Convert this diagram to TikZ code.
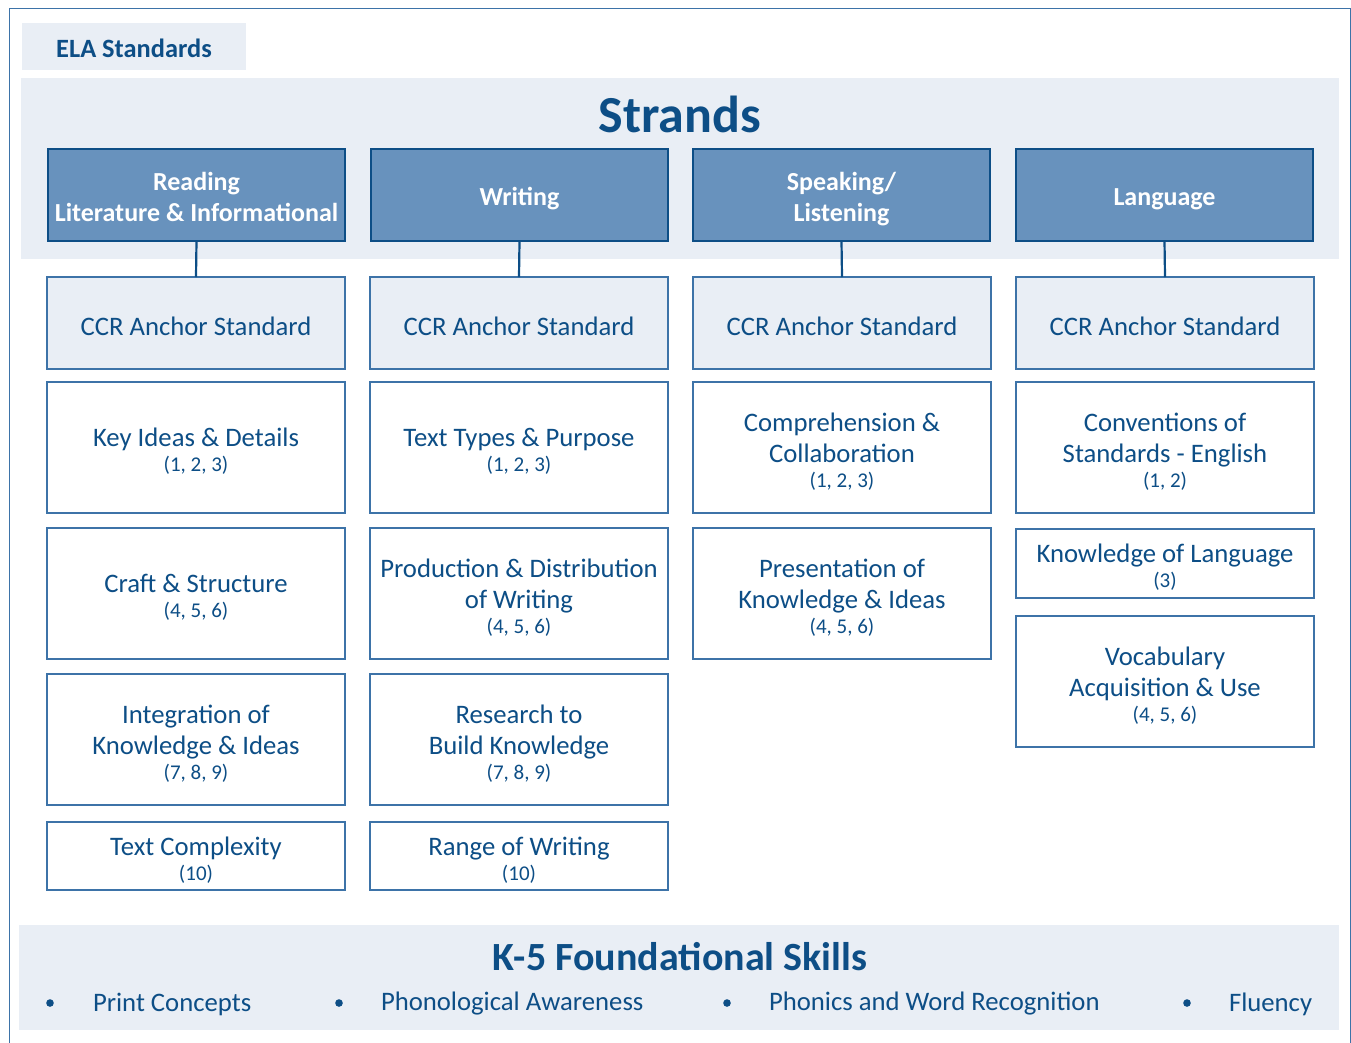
\documentclass[tikz,border=0pt]{standalone}
\usepackage{fontspec}
\setmainfont{Carlito}
\definecolor{navy}{HTML}{0D4E86}
\definecolor{paleblue}{HTML}{E9EEF5}
\definecolor{midblue}{HTML}{6892BD}
\definecolor{edgeblue}{HTML}{3D73A8}
\newcommand{\subl}[1]{{\fontsize{21}{25}\selectfont #1}}
% invisible strut that sets the text a little lower in its box
\newcommand{\lift}{\rule{0pt}{26pt}}
\begin{document}
\begin{tikzpicture}[x=1pt,y=-1pt,
  every node/.style={inner sep=0pt,outer sep=0pt},
  lowered/.style={execute at begin node={\lift}},
  strand/.style={draw=navy,line width=2.6pt,fill=midblue,text=white,align=center,
    anchor=north west,minimum width=297,minimum height=92,font=\fontsize{26}{31}\selectfont\bfseries},
  anchorbox/.style={draw=edgeblue,line width=1.2pt,fill=paleblue,text=navy,lowered,
    anchor=north west,minimum width=298,minimum height=92,font=\fontsize{26.7}{31}\selectfont},
  itembox/.style={draw=edgeblue,line width=1.2pt,fill=white,text=navy,align=center,
    anchor=north west,minimum width=298,font=\fontsize{26.7}{31}\selectfont},
  link/.style={draw=navy,line width=2.2pt},
  skill/.style={text=navy,anchor=west,font=\fontsize{26.7}{31}\selectfont}]
\useasboundingbox (0,0) rectangle (1351,1042);
% outer frame
\draw[edgeblue,line width=1pt] (9,1045) -- (9,8) -- (1350,8) -- (1350,1045);
% title tab
\fill[paleblue] (22,23) rectangle (246,70);
\node[text=navy,font=\fontsize{26.4}{31}\selectfont\bfseries] (ela) at (134,48) {ELA Standards};
% strands band
\fill[paleblue] (21,78) rectangle (1339,259);
\node[text=navy,font=\fontsize{52}{60}\selectfont\bfseries] (strands) at (680,114) {Strands};
% strand headers
\node[strand] (s1) at (48,149) {\rule{0pt}{23pt}Reading\\Literature \& Informational};
\node[strand,lowered] (s2) at (371,149) {Writing};
\node[strand] (s3) at (693,149) {\lift Speaking/\\Listening};
\node[strand,lowered] (s4) at (1016,149) {Language};
% anchor standard boxes
\node[anchorbox] (a1) at (47,277) {CCR Anchor Standard};
\node[anchorbox] (a2) at (370,277) {CCR Anchor Standard};
\node[anchorbox] (a3) at (693,277) {CCR Anchor Standard};
\node[anchorbox] (a4) at (1016,277) {CCR Anchor Standard};
\foreach \i in {1,2,3,4} \draw[link] (s\i.south) -- (a\i.north);
% reading column
\node[itembox,minimum height=131] (r1) at (47,382) {\lift Key Ideas \& Details\\[-6pt]\subl{(1, 2, 3)}};
\node[itembox,minimum height=131] (r2) at (47,528) {\lift Craft \& Structure\\[-6pt]\subl{(4, 5, 6)}};
\node[itembox,minimum height=131] (r3) at (47,674) {\lift Integration of\\Knowledge \& Ideas\\[-6pt]\subl{(7, 8, 9)}};
\node[itembox,minimum height=68] (r4) at (47,822) {\lift Text Complexity\\[-6pt]\subl{(10)}};
% writing column
\node[itembox,minimum height=131] (w1) at (370,382) {\lift Text Types \& Purpose\\[-6pt]\subl{(1, 2, 3)}};
\node[itembox,minimum height=131] (w2) at (370,528) {\lift Production \& Distribution\\of Writing\\[-6pt]\subl{(4, 5, 6)}};
\node[itembox,minimum height=131] (w3) at (370,674) {\lift Research to\\Build Knowledge\\[-6pt]\subl{(7, 8, 9)}};
\node[itembox,minimum height=68] (w4) at (370,822) {\lift Range of Writing\\[-6pt]\subl{(10)}};
% speaking / listening column
\node[itembox,minimum height=131] (k1) at (693,382) {\lift Comprehension \&\\Collaboration\\[-6pt]\subl{(1, 2, 3)}};
\node[itembox,minimum height=131] (k2) at (693,528) {\lift Presentation of\\Knowledge \& Ideas\\[-6pt]\subl{(4, 5, 6)}};
% language column
\node[itembox,minimum height=131] (l1) at (1016,382) {\lift Conventions of\\Standards - English\\[-6pt]\subl{(1, 2)}};
\node[itembox,minimum height=69] (l2) at (1016,529) {\lift Knowledge of Language\\[-6pt]\subl{(3)}};
\node[itembox,minimum height=131] (l3) at (1016,616) {\lift Vocabulary\\Acquisition \& Use\\[-6pt]\subl{(4, 5, 6)}};
% foundational skills band
\fill[paleblue] (19,925) rectangle (1339,1030);
\node[text=navy,font=\fontsize{40}{46}\selectfont\bfseries] (k5) at (680,957) {K-5 Foundational Skills};
\foreach \bx/\tx/\lbl/\nm in {50/93/Print Concepts/f1,339/381/Phonological Awareness/f2,727/769/Phonics and Word Recognition/f3,1187/1229/Fluency/f4}{
  \fill[navy] (\bx,1003) circle (3.8);
  \node[skill] (\nm) at (\tx,1004) {\lbl};
}
\end{tikzpicture}
\end{document}
